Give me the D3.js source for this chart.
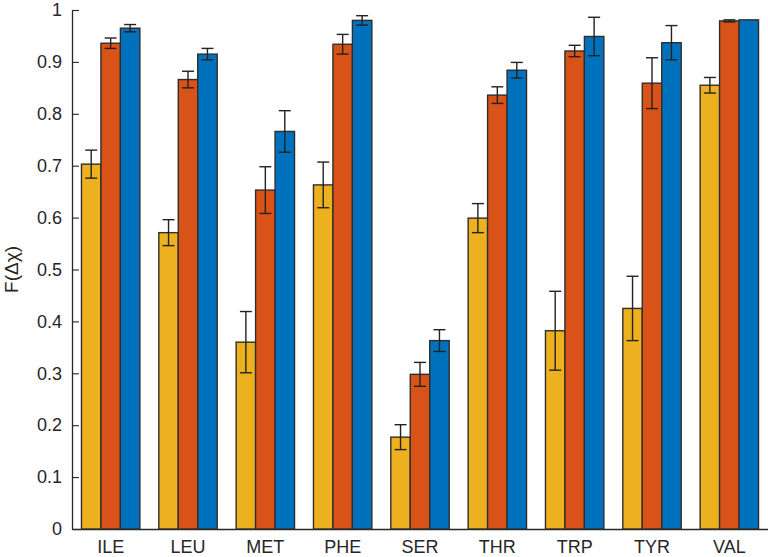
<!DOCTYPE html>
<html>
<head>
<meta charset="utf-8">
<script src="https://cdn.jsdelivr.net/npm/d3@7/dist/d3.min.js"></script>
<style>
  html, body { margin: 0; padding: 0; background: #ffffff; }
  svg { display: block; }
</style>
</head>
<body>
<svg id="chart" width="768" height="557"></svg>
<script>
// ---- data ----
const categories = ["ILE", "LEU", "MET", "PHE", "SER", "THR", "TRP", "TYR", "VAL"];
const seriesNames = ["s1", "s2", "s3"];
const s1Values = [0.703, 0.571, 0.360, 0.663, 0.177, 0.599, 0.382, 0.425, 0.855];
const s1Errors = [0.027, 0.025, 0.059, 0.044, 0.024, 0.028, 0.076, 0.062, 0.015];
const s2Values = [0.936, 0.866, 0.653, 0.934, 0.298, 0.836, 0.921, 0.859, 0.979];
const s2Errors = [0.010, 0.016, 0.045, 0.019, 0.023, 0.016, 0.011, 0.049, 0.002];
const s3Values = [0.965, 0.915, 0.766, 0.980, 0.363, 0.884, 0.949, 0.937, 0.981];
const s3Errors = [0.007, 0.011, 0.040, 0.009, 0.021, 0.015, 0.037, 0.033, 0.000];
const yTicks = [0, 0.1, 0.2, 0.3, 0.4, 0.5, 0.6, 0.7, 0.8, 0.9, 1];
const yTickLabels = ["0", "0.1", "0.2", "0.3", "0.4", "0.5", "0.6", "0.7", "0.8", "0.9", "1"];
const yLabel = "F(\u0394\u03C7)";
const colors = ["#EDB120", "#D95319", "#0072BD"];

const values = [s1Values, s2Values, s3Values];
const errors = [s1Errors, s2Errors, s3Errors];

// ---- layout ----
const mLeft = 72, mRight = 768, mTop = 10, mBottom = 529;
const svg = d3.select("#chart");
const fontFamily = "'Liberation Sans', Arial, Helvetica, sans-serif";
const ink = "#262626";

const x = d3.scaleBand().domain(categories).range([mLeft, mRight])
  .paddingInner(0.245).paddingOuter(0.1225);
const xs = d3.scaleBand().domain(seriesNames).range([0, x.bandwidth()]).padding(0);
const y = d3.scaleLinear().domain([0, 1]).range([mBottom, mTop]);

// axes (drawn first, ticks sit beneath bars)
const yAxis = d3.axisLeft(y).tickValues(yTicks)
  .tickFormat((d, i) => yTickLabels[i])
  .tickSizeInner(-7).tickSizeOuter(0).tickPadding(10);
const gy = svg.append("g").attr("transform", `translate(${mLeft},0)`).call(yAxis);

const xAxis = d3.axisBottom(x).tickSizeInner(-7).tickSizeOuter(0).tickPadding(11);
const gx = svg.append("g").attr("transform", `translate(0,${mBottom})`).call(xAxis);

[gy, gx].forEach(g => {
  g.selectAll(".domain").attr("stroke", ink).attr("stroke-width", 1.3);
  g.selectAll(".tick line").attr("stroke", ink).attr("stroke-width", 1.1);
  g.selectAll(".tick text").attr("fill", ink)
    .style("font-family", fontFamily).style("font-size", "18px");
});

// bars
const rows = [];
categories.forEach((c, i) => {
  seriesNames.forEach((s, k) => {
    rows.push({ cat: c, ser: s, k: k, v: values[k][i], e: errors[k][i] });
  });
});

svg.append("g").selectAll("rect").data(rows).join("rect")
  .attr("x", d => x(d.cat) + xs(d.ser))
  .attr("width", xs.bandwidth())
  .attr("y", d => y(d.v))
  .attr("height", d => y(0) - y(d.v))
  .attr("fill", d => colors[d.k])
  .attr("stroke", "#2e2e2e")
  .attr("stroke-width", 1.4);

// error bars
const capHalf = 6;
const eg = svg.append("g").attr("stroke", "#222").attr("stroke-width", 1.4);
rows.filter(d => d.e > 0).forEach(d => {
  const cx = x(d.cat) + xs(d.ser) + xs.bandwidth() / 2;
  const y1 = y(d.v + d.e), y2 = y(d.v - d.e);
  eg.append("line").attr("x1", cx).attr("x2", cx).attr("y1", y1).attr("y2", y2);
  eg.append("line").attr("x1", cx - capHalf).attr("x2", cx + capHalf).attr("y1", y1).attr("y2", y1);
  eg.append("line").attr("x1", cx - capHalf).attr("x2", cx + capHalf).attr("y1", y2).attr("y2", y2);
});

// y label
svg.append("text")
  .attr("transform", `translate(11,${(mTop + mBottom) / 2}) rotate(-90)`)
  .attr("text-anchor", "middle")
  .attr("dominant-baseline", "central")
  .attr("fill", ink)
  .style("font-family", fontFamily)
  .style("font-size", "19px")
  .text(yLabel);
</script>
</body>
</html>
